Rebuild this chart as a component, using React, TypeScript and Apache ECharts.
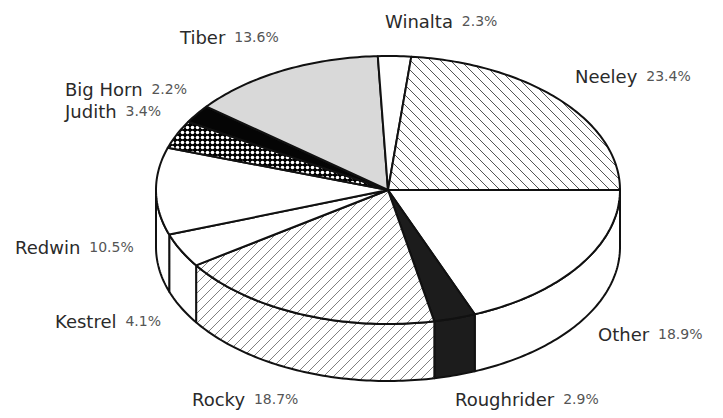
import React, { useEffect, useRef } from 'react';
import * as echarts from 'echarts';

// ---- data ----
const categories = ['Other', 'Roughrider', 'Rocky', 'Kestrel', 'Redwin', 'Judith', 'Big Horn', 'Tiber', 'Winalta', 'Neeley'];
const shares = [18.9, 2.9, 18.7, 4.1, 10.5, 3.4, 2.2, 13.6, 2.3, 23.4];
const fillKinds = ['white', 'dark', 'hatchFwd', 'white', 'white', 'dots', 'black', 'gray', 'white', 'hatchBack'];

// ---- layout (positions / styles) ----
const labelAnchors: number[][] = [
  [598, 334], [455, 399], [192, 399], [55, 321], [15, 247],
  [65, 111], [65, 89], [180, 37], [385, 21], [575, 76],
];
const CX = 388, CY = 190, RX = 232, RY = 134, DEPTH = 57;
const STROKE = '#111';
const LW = 2;
const FONT = 'DejaVu Sans';

function makeTile(kind: string): any {
  const s = kind === 'dots' ? 5 : 10;
  const c = document.createElement('canvas');
  c.width = s; c.height = s;
  const g = c.getContext('2d')!;
  g.fillStyle = '#fff';
  g.fillRect(0, 0, s, s);
  if (kind === 'hatchBack' || kind === 'hatchFwd') {
    g.strokeStyle = kind === 'hatchBack' ? '#555' : '#808080';
    g.lineWidth = 1;
    g.beginPath();
    for (const k of [-s, 0, s]) {
      if (kind === 'hatchBack') { g.moveTo(k, 0); g.lineTo(k + s, s); }
      else { g.moveTo(k + s, 0); g.lineTo(k, s); }
    }
    g.stroke();
  } else if (kind === 'dots') {
    g.fillStyle = '#000';
    g.fillRect(0, 0, s, s);
    g.fillStyle = '#fff';
    g.beginPath();
    g.arc(s / 2, s / 2, 1.8, 0, Math.PI * 2);
    g.fill();
  }
  return { image: c.toDataURL(), repeat: 'repeat', imageWidth: s, imageHeight: s };
}

function fillFor(kind: string): any {
  switch (kind) {
    case 'white': return '#ffffff';
    case 'dark': return '#1c1c1c';
    case 'black': return '#050505';
    case 'gray': return '#d9d9d9';
    default: return makeTile(kind);
  }
}

const deg = Math.PI / 180;
function pt(t: number, dy: number): number[] {
  return [CX + RX * Math.cos(t * deg), CY + RY * Math.sin(t * deg) + dy];
}
function arc(a: number, b: number, dy: number): number[][] {
  const n = Math.max(2, Math.ceil(Math.abs(b - a)));
  const out: number[][] = [];
  for (let i = 0; i <= n; i++) out.push(pt(a + ((b - a) * i) / n, dy));
  return out;
}

export default function App() {
  const ref = useRef<HTMLDivElement>(null);
  useEffect(() => {
    document.body.style.margin = '0';
    const chart = echarts.init(ref.current!, undefined, { renderer: 'svg' });
    const fills = fillKinds.map(fillFor);
    const total = shares.reduce((s, v) => s + v, 0);
    const ranges: number[][] = [];
    let acc = 0;
    shares.forEach((v) => { ranges.push([acc / total, (acc + v) / total]); acc += v; });

    const renderItem = (params: any, api: any) => {
      const i = params.dataIndex;
      const a = api.value(0) * 360;
      const b = api.value(1) * 360;
      const fill = fills[i];
      const children: any[] = [];
      const wa = Math.max(a, 0), wb = Math.min(b, 180);
      if (wb > wa) {
        const pts = arc(wa, wb, 0).concat(arc(wb, wa, DEPTH));
        children.push({
          type: 'polygon', shape: { points: pts },
          style: { fill, stroke: STROKE, lineWidth: LW, lineJoin: 'round' },
        });
      }
      children.push({
        type: 'polygon', shape: { points: [[CX, CY]].concat(arc(a, b, 0)) },
        style: { fill, stroke: STROKE, lineWidth: LW, lineJoin: 'round' },
      });
      return { type: 'group', children };
    };

    const labels = categories.map((name, i) => ({
      type: 'text',
      x: labelAnchors[i][0],
      y: labelAnchors[i][1],
      silent: true,
      style: {
        text: `{n|${name}}  {p|${shares[i].toFixed(1)}%}`,
        fontFamily: FONT,
        fontSize: 14,
        align: 'left',
        verticalAlign: 'middle',
        rich: {
          n: { fontFamily: FONT, fontSize: 18, fill: '#2a2a2a' },
          p: { fontFamily: FONT, fontSize: 14, fill: '#555' },
        },
      },
    }));

    chart.setOption({
      animation: false,
      backgroundColor: '#fff',
      series: [{
        type: 'custom',
        coordinateSystem: 'none',
        silent: true,
        renderItem,
        data: ranges,
      }],
      graphic: labels,
    });
    return () => chart.dispose();
  }, []);
  return <div ref={ref} style={{ width: 723, height: 418 }} />;
}
